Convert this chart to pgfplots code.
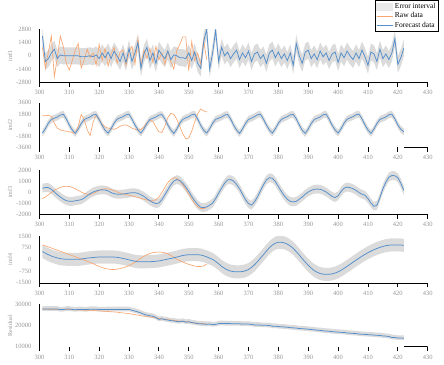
\documentclass[border=0pt]{standalone}
\usepackage{fontspec}
\setmainfont{Liberation Serif}
\usepackage{pgfplots}
\usepackage{pgfplotstable}
\pgfplotsset{compat=1.18}
\usepgfplotslibrary{fillbetween}
\definecolor{myorange}{RGB}{248,166,112}
\definecolor{myblue}{RGB}{82,142,204}
\definecolor{bandgray}{RGB}{219,219,219}
\definecolor{leggray}{RGB}{234,234,234}
\definecolor{ticklab}{RGB}{150,150,150}

\pgfplotstableread{
x y
301 2100
302 -600
303 -300
304 300
305 700
306 -300
307 100
308 0
309 0
310 0
311 0
312 0
313 0
314 -100
315 -100
316 -50
317 0
318 -100
319 100
320 -300
321 300
322 -200
323 400
324 -300
325 500
326 0
327 -600
328 300
329 -700
330 800
331 -600
332 300
333 1400
334 -1300
335 200
336 900
337 -500
338 300
339 -800
340 600
341 100
342 -300
343 500
344 -400
345 100
346 0
347 -200
348 -200
349 -300
350 300
351 -500
352 400
353 -800
354 -1300
355 1500
356 2800
357 -1400
358 300
359 2700
360 -600
361 900
362 0
363 400
364 -300
365 200
366 600
367 -400
368 300
369 -200
370 500
371 -600
372 200
373 400
374 -300
375 100
376 -800
377 300
378 600
379 -200
380 400
381 -300
382 200
383 -500
384 300
385 -1000
386 1300
387 0
388 -800
389 400
390 600
391 -300
392 200
393 -400
394 500
395 -100
396 300
397 -500
398 200
399 400
400 -700
401 300
402 -200
403 500
404 0
405 -400
406 300
407 -300
408 600
409 -100
410 -1000
411 400
412 200
413 -600
414 700
415 -300
416 200
417 -400
418 300
419 1800
420 -900
421 -200
422 800
}\fonefc

\pgfplotstableread{
x y
301 900
302 -1300
303 400
304 2100
305 -2200
306 -200
307 2100
308 1000
309 -800
310 -1500
311 -500
312 600
313 1300
314 -1300
315 -400
316 700
317 -200
318 300
319 -1000
320 1200
321 -500
322 800
323 -1100
324 200
325 900
326 -800
327 400
328 600
329 -1000
330 400
331 1000
332 -900
333 1800
334 -1100
335 600
336 -300
337 800
338 -700
339 1000
340 -400
341 300
342 -900
343 500
344 -600
345 -1400
346 600
347 1200
348 2000
349 2000
350 -1600
351 1500
352 -500
353 300
354 -900
355 1600
356 -400
}\fneraw

\pgfplotstableread{
x y
301 -1300
302 -600
303 300
304 900
305 1100
306 1300
307 1600
308 1750
309 1000
310 0
311 -800
312 -1350
313 -650
314 250
315 900
316 1100
317 1300
318 1650
319 1700
320 900
321 -50
322 -850
323 -1300
324 -600
325 300
326 950
327 1150
328 1350
329 1650
330 1750
331 950
332 0
333 -800
334 -1300
335 -600
336 250
337 900
338 1100
339 1300
340 1600
341 1700
342 1000
343 0
344 -800
345 -1350
346 -650
347 300
348 900
349 1150
350 1350
351 1650
352 1750
353 950
354 -50
355 -850
356 -1300
357 -600
358 300
359 900
360 1100
361 1300
362 1600
363 1700
364 1000
365 0
366 -800
367 -1350
368 -650
369 250
370 900
371 1100
372 1350
373 1650
374 1750
375 950
376 0
377 -800
378 -1300
379 -600
380 300
381 900
382 1150
383 1350
384 1650
385 1700
386 1000
387 0
388 -850
389 -1350
390 -650
391 250
392 900
393 1100
394 1300
395 1650
396 1750
397 950
398 -50
399 -800
400 -1300
401 -600
402 300
403 950
404 1150
405 1350
406 1650
407 1750
408 1000
409 0
410 -800
411 -1350
412 -650
413 250
414 900
415 1100
416 1300
417 1650
418 1750
419 1000
420 0
421 -700
422 -1100
}\ftwofc

\pgfplotstableread{
x y
301 1500
302 1500
303 1550
304 1400
305 300
306 -500
307 -800
308 -900
309 -1000
310 -1100
311 -1200
312 -1300
313 -200
314 1700
315 900
316 -800
317 -1700
318 500
319 1600
320 800
321 100
322 -300
323 -500
324 -600
325 -700
326 -500
327 -200
328 0
329 0
330 -200
331 -500
332 -700
333 -800
334 -700
335 -300
336 300
337 800
338 600
339 -300
340 -1100
341 -1200
342 -200
343 1200
344 1900
345 1700
346 900
347 -200
348 -1400
349 -2200
350 -2100
351 -1000
352 500
353 1800
354 2600
355 2300
356 2100
}\ftworaw

\pgfplotstableread{
x y
301 350
302 400
303 400
304 250
305 0
306 -250
307 -450
308 -650
309 -780
310 -850
311 -850
312 -800
313 -750
314 -700
315 -550
316 -350
317 -150
318 0
319 100
320 170
321 200
322 180
323 100
324 -50
325 -150
326 -200
327 -200
328 -180
329 -150
330 -100
331 -60
332 -60
333 -120
334 -250
335 -400
336 -600
337 -800
338 -950
339 -1050
340 -1000
341 -700
342 -250
343 200
344 650
345 1000
346 1130
347 1050
348 800
349 450
350 50
351 -400
352 -800
353 -1150
354 -1380
355 -1420
356 -1350
357 -1200
358 -1000
359 -600
360 -100
361 350
362 800
363 1100
364 1130
365 1000
366 700
367 300
368 -200
369 -700
370 -1050
371 -1200
372 -900
373 -450
374 100
375 650
376 1100
377 1300
378 1250
379 950
380 500
381 50
382 -350
383 -650
384 -850
385 -900
386 -850
387 -650
388 -450
389 -200
390 0
391 150
392 250
393 270
394 250
395 150
396 0
397 -200
398 -400
399 -500
400 -350
401 50
402 350
403 450
404 400
405 300
406 150
407 -50
408 -200
409 -300
410 -600
411 -1000
412 -1300
413 -1200
414 -500
415 300
416 900
417 1350
418 1500
419 1480
420 1300
421 800
422 150
}\fthreefc

\pgfplotstableread{
x y
301 -600
302 -450
303 -250
304 -50
305 150
306 300
307 420
308 500
309 520
310 500
311 420
312 300
313 150
314 0
315 -120
316 -200
317 -220
318 -150
319 0
320 150
321 250
322 300
323 280
324 220
325 120
326 0
327 -100
328 -180
329 -250
330 -300
331 -350
332 -420
333 -500
334 -580
335 -650
336 -720
337 -780
338 -800
339 -700
340 -450
341 -50
342 400
343 850
344 1150
345 1300
346 1250
347 1000
348 650
349 250
350 -200
351 -650
352 -1050
353 -1350
354 -1500
355 -1500
356 -1400
}\fthreeraw

\pgfplotstableread{
x y
301 500
302 400
303 300
304 215
305 150
306 90
307 50
308 20
309 10
310 0
311 0
312 0
313 0
314 20
315 50
316 80
317 100
318 120
319 140
320 150
321 150
322 150
323 150
324 150
325 150
326 130
327 100
328 60
329 20
330 -30
331 -80
332 -120
333 -150
334 -160
335 -160
336 -150
337 -150
338 -140
339 -120
340 -100
341 -60
342 -20
343 20
344 60
345 100
346 150
347 200
348 250
349 280
350 300
351 300
352 300
353 300
354 280
355 230
356 160
357 80
358 0
359 -130
360 -280
361 -450
362 -580
363 -680
364 -750
365 -790
366 -800
367 -800
368 -780
369 -730
370 -650
371 -520
372 -350
373 -150
374 80
375 300
376 530
377 750
378 920
379 1040
380 1100
381 1100
382 1060
383 980
384 860
385 700
386 500
387 280
388 50
389 -170
390 -380
391 -560
392 -720
393 -830
394 -910
395 -950
396 -960
397 -960
398 -930
399 -880
400 -800
401 -700
402 -580
403 -450
404 -320
405 -180
406 -50
407 80
408 200
409 320
410 430
411 530
412 620
413 700
414 770
415 830
416 880
417 910
418 930
419 930
420 930
421 920
422 900
}\ffourfc

\pgfplotstableread{
x y
301 930
302 870
303 800
304 730
305 660
306 590
307 520
308 450
309 380
310 310
311 240
312 170
313 100
314 30
315 -40
316 -120
317 -200
318 -280
319 -370
320 -450
321 -530
322 -580
323 -620
324 -650
325 -650
326 -630
327 -590
328 -540
329 -480
330 -400
331 -300
332 -180
333 -50
334 80
335 200
336 300
337 380
338 430
339 460
340 470
341 460
342 420
343 350
344 250
345 130
346 20
347 -80
348 -170
349 -250
350 -320
351 -380
352 -430
353 -460
354 -460
355 -420
356 -300
}\ffourraw

\pgfplotstableread{
x y
301 27800
302 27800
303 27800
304 27800
305 27800
306 27800
307 27500
308 27500
309 27800
310 27800
311 27600
312 27400
313 27600
314 27600
315 27500
316 27500
317 27700
318 27700
319 27700
320 27500
321 27500
322 27500
323 27600
324 27600
325 27600
326 27600
327 27600
328 27600
329 27600
330 27600
331 27200
332 26800
333 26400
334 25900
335 25300
336 24900
337 24600
338 24400
339 23800
340 22900
341 23200
342 22800
343 22600
344 22300
345 22200
346 21900
347 21800
348 22100
349 21600
350 21800
351 21400
352 21200
353 20900
354 20800
355 20700
356 20600
357 20700
358 20400
359 20500
360 20900
361 21000
362 20900
363 20900
364 20900
365 20800
366 20800
367 20800
368 20700
369 20700
370 20700
371 20500
372 20300
373 20300
374 20200
375 20100
376 20100
377 20000
378 19700
379 19700
380 19500
381 19400
382 19300
383 19200
384 19000
385 18900
386 18800
387 18600
388 18500
389 18400
390 18300
391 18100
392 18000
393 17800
394 17700
395 17500
396 17400
397 17300
398 17100
399 17000
400 16900
401 16800
402 16700
403 16500
404 16400
405 16300
406 16200
407 16000
408 15900
409 15800
410 15700
411 15600
412 15500
413 15400
414 15300
415 15100
416 15000
417 14800
418 14400
419 14300
420 14100
421 14100
422 14000
}\resfc

\pgfplotstableread{
x y
301 27800
302 27800
303 27700
304 27700
305 27700
306 27600
307 27600
308 27600
309 27600
310 27500
311 27400
312 27400
313 27300
314 27300
315 27200
316 27200
317 27200
318 27100
319 27000
320 26900
321 26800
322 26700
323 26600
324 26500
325 26400
326 26300
327 26100
328 25900
329 25800
330 25600
331 25400
332 25100
333 24900
334 24600
335 24400
336 24200
337 24000
338 23800
339 23600
340 23300
341 23100
342 23000
343 22800
344 22600
345 22400
346 22200
347 22100
348 21900
349 21800
350 21600
351 21400
352 21200
353 21100
354 20900
355 20800
356 20700
}\resraw

\pgfplotsset{
  sub/.style={
    scale only axis, width=388.3pt, anchor=south west,
    xmin=300, xmax=430, xtick={300,310,...,430},
    axis x line=bottom, axis y line=left,
    x axis line style={-}, y axis line style={-},
    every axis line/.append style={line width=0.8pt, black},
    tick align=outside,
    major tick length=4.5pt,
    xtick style={black, line width=0.8pt},
    ytick style={draw=none},
    ticklabel style={font=\fontsize{6.5}{7}\selectfont, text=ticklab},
    /pgf/number format/assume math mode=true,
    /pgf/number format/1000 sep={},
    scaled y ticks=false,
    every axis y label/.style={at={(axis description cs:-0.0757,0.5)}, rotate=90, anchor=center,
      font=\fontsize{6}{7}\selectfont, text=ticklab},
    clip=true,
  },
  fcline/.style={myblue, line width=0.75pt, forget plot},
  rawline/.style={myorange, line width=0.65pt, forget plot},
}

\begin{document}
\begin{tikzpicture}
\path (0,0) rectangle (444pt,364pt);

% ---- imf1
\begin{axis}[sub, at={(39.4pt,281.7pt)}, height=53pt,
  ymin=-2800, ymax=2800, ytick={-2800,-1400,0,1400,2800}, ylabel={imf1},
  legend style={at={(1.029,1.553)}, anchor=north east, draw=black, line width=0.8pt,
    font=\fontsize{7.5}{8.5}\selectfont, inner sep=1pt, row sep=-1.5pt, fill=white},
  legend cell align=left]
\addlegendimage{legend image code/.code={\fill[leggray] (0pt,-3.5pt) rectangle (16pt,3.5pt);}}
\addlegendentry{Error interval}
\addlegendimage{legend image code/.code={\draw[myorange, line width=0.75pt] (0pt,0pt) -- (16pt,0pt);}}
\addlegendentry{Raw data}
\addlegendimage{legend image code/.code={\draw[myblue, line width=0.8pt] (0pt,0pt) -- (16pt,0pt);}}
\addlegendentry{Forecast data}
\addplot[name path=U1, draw=none, forget plot] table[x=x, y expr=\thisrow{y}+900] {\fonefc};
\addplot[name path=L1, draw=none, forget plot] table[x=x, y expr=\thisrow{y}-900] {\fonefc};
\addplot[fill=bandgray, draw=none, forget plot] fill between[of=U1 and L1];
\addplot[rawline] table[x=x, y=y] {\fneraw};
\addplot[fcline] table[x=x, y=y] {\fonefc};
\end{axis}

% ---- imf2
\begin{axis}[sub, at={(39.4pt,216.7pt)}, height=44.6pt,
  ymin=-3600, ymax=3600, ytick={-3600,-1800,0,1800,3600}, ylabel={imf2},
  x axis line style={draw opacity=0}]
\addplot[name path=U2, draw=none, forget plot] table[x=x, y expr=\thisrow{y}+550] {\ftwofc};
\addplot[name path=L2, draw=none, forget plot] table[x=x, y expr=\thisrow{y}-550] {\ftwofc};
\addplot[fill=bandgray, draw=none, forget plot] fill between[of=U2 and L2];
\addplot[rawline] table[x=x, y=y] {\ftworaw};
\addplot[fcline] table[x=x, y=y] {\ftwofc};
\addplot[black, line width=0.8pt, forget plot, clip=false] coordinates {(422,-3600) (430,-3600)};
\end{axis}

% ---- imf3
\begin{axis}[sub, at={(39.4pt,150pt)}, height=44pt,
  ymin=-2000, ymax=2000, ytick={-2000,-1000,0,1000,2000}, ylabel={imf3}]
\addplot[name path=U3, draw=none, forget plot] table[x=x, y expr=\thisrow{y}+400] {\fthreefc};
\addplot[name path=L3, draw=none, forget plot] table[x=x, y expr=\thisrow{y}-400] {\fthreefc};
\addplot[fill=bandgray, draw=none, forget plot] fill between[of=U3 and L3];
\addplot[rawline] table[x=x, y=y] {\fthreeraw};
\addplot[fcline] table[x=x, y=y] {\fthreefc};
\end{axis}

% ---- imf4
\begin{axis}[sub, at={(39.4pt,81.3pt)}, height=46.7pt,
  ymin=-1500, ymax=1500, ytick={-1500,-750,0,750,1500}, ylabel={imf4}]
\addplot[name path=U4, draw=none, forget plot] table[x=x, y expr=\thisrow{y}+420] {\ffourfc};
\addplot[name path=L4, draw=none, forget plot] table[x=x, y expr=\thisrow{y}-420] {\ffourfc};
\addplot[fill=bandgray, draw=none, forget plot] fill between[of=U4 and L4];
\addplot[rawline] table[x=x, y=y] {\ffourraw};
\addplot[fcline] table[x=x, y=y] {\ffourfc};
\end{axis}

% ---- Residual
\begin{axis}[sub, at={(39.4pt,17.3pt)}, height=42.4pt,
  ymin=10000, ymax=30000, ytick={10000,20000,30000}, ylabel={Residual},
  x axis line style={draw opacity=0}]
\addplot[name path=U5, draw=none, forget plot] table[x=x, y expr=\thisrow{y}+1300] {\resfc};
\addplot[name path=L5, draw=none, forget plot] table[x=x, y expr=\thisrow{y}-900] {\resfc};
\addplot[fill=bandgray, draw=none, forget plot] fill between[of=U5 and L5];
\addplot[rawline] table[x=x, y=y] {\resraw};
\addplot[fcline] table[x=x, y=y] {\resfc};
\addplot[black, line width=0.8pt, forget plot, clip=false] coordinates {(422,10000) (430,10000)};
\end{axis}
\end{tikzpicture}
\end{document}
